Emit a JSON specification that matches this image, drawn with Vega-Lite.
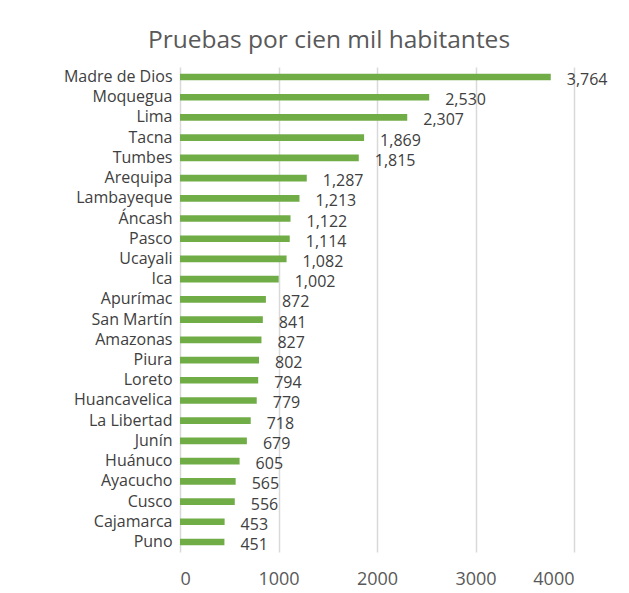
{
  "$schema": "https://vega.github.io/schema/vega-lite/v6.json",
  "width": 394,
  "height": 485,
  "autosize": {"type": "none"},
  "padding": {"left": 180, "top": 67, "right": 55, "bottom": 41},
  "background": "white",
  "title": {
    "text": "Pruebas por cien mil habitantes",
    "font": "Open Sans",
    "fontSize": 24.5,
    "fontWeight": "normal",
    "color": "#595959",
    "anchor": "middle",
    "dx": -48,
    "offset": 14
  },
  "data": {
    "values": [
      {"region": "Madre de Dios", "valor": 3764},
      {"region": "Moquegua", "valor": 2530},
      {"region": "Lima", "valor": 2307},
      {"region": "Tacna", "valor": 1869},
      {"region": "Tumbes", "valor": 1815},
      {"region": "Arequipa", "valor": 1287},
      {"region": "Lambayeque", "valor": 1213},
      {"region": "Áncash", "valor": 1122},
      {"region": "Pasco", "valor": 1114},
      {"region": "Ucayali", "valor": 1082},
      {"region": "Ica", "valor": 1002},
      {"region": "Apurímac", "valor": 872},
      {"region": "San Martín", "valor": 841},
      {"region": "Amazonas", "valor": 827},
      {"region": "Piura", "valor": 802},
      {"region": "Loreto", "valor": 794},
      {"region": "Huancavelica", "valor": 779},
      {"region": "La Libertad", "valor": 718},
      {"region": "Junín", "valor": 679},
      {"region": "Huánuco", "valor": 605},
      {"region": "Ayacucho", "valor": 565},
      {"region": "Cusco", "valor": 556},
      {"region": "Cajamarca", "valor": 453},
      {"region": "Puno", "valor": 451}
    ]
  },
  "encoding": {
    "y": {
      "field": "region",
      "type": "nominal",
      "sort": null,
      "scale": {"paddingInner": 0.67, "paddingOuter": 0.33},
      "axis": {
        "title": null,
        "ticks": false,
        "domain": false,
        "labelFont": "Open Sans",
        "labelFontSize": 16,
        "labelColor": "#404040",
        "labelPadding": 8
      }
    },
    "x": {
      "field": "valor",
      "type": "quantitative",
      "scale": {"domain": [0, 4000], "nice": false},
      "axis": {
        "title": null,
        "values": [0, 1000, 2000, 3000, 4000],
        "format": "d",
        "ticks": false,
        "domain": false,
        "grid": true,
        "gridColor": "#D9D9D9",
        "gridWidth": 1.5,
        "labelFont": "Open Sans",
        "labelFontSize": 18,
        "labelColor": "#595959",
        "labelPadding": 18
      }
    }
  },
  "layer": [
    {"mark": {"type": "bar", "color": "#70AD47"}},
    {
      "mark": {"type": "text", "align": "left", "baseline": "middle", "dx": 16, "dy": 3, "font": "Open Sans", "fontSize": 16, "color": "#404040"},
      "encoding": {"text": {"field": "valor", "type": "quantitative", "format": ","}}
    }
  ],
  "config": {"view": {"stroke": null}}
}
